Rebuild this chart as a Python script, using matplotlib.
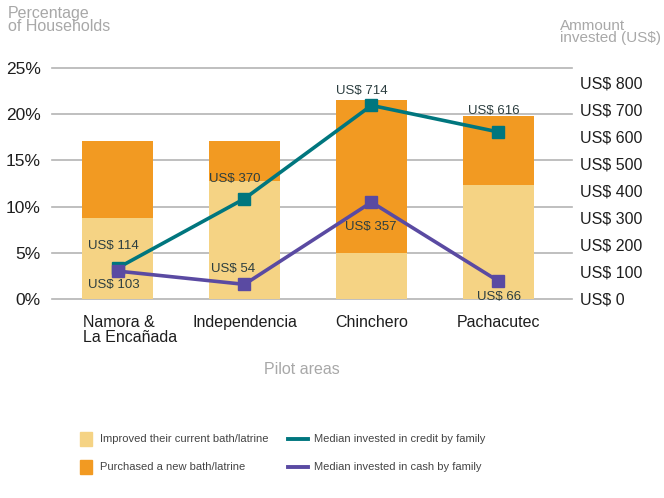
import matplotlib.pyplot as plt
import numpy as np

plt.rcParams['font.family'] = ['Liberation Sans', 'DejaVu Sans']

# data
areas = ["Namora &\nLa Encañada", "Independencia", "Chinchero", "Pachacutec"]
improved = [8.8, 12.8, 5.0, 12.3]
purchased = [8.3, 4.3, 16.5, 7.5]
credit = [114, 370, 714, 616]
cash = [103, 54, 357, 66]
pct_ticks = [0, 5, 10, 15, 20, 25]
usd_ticks = [0, 100, 200, 300, 400, 500, 600, 700, 800]

LIGHT = "#F5D384"
ORANGE = "#F29A22"
TEAL = "#00767E"
PURPLE = "#5A4AA2"
GRID = "#b4b4b4"
GREY_TXT = "#a8a8a8"
DARK = "#1e1e1e"
LABEL = "#2c3e40"

fig = plt.figure(figsize=(6.64, 4.98), dpi=100)
ax = fig.add_axes([0.0783, 0.3996, 0.7831, 0.4639])

x = np.arange(len(areas))
ax.bar(x, improved, width=0.56, color=LIGHT, zorder=2)
ax.bar(x, purchased, bottom=improved, width=0.56, color=ORANGE, zorder=2)

ax.set_xlim(-0.516, 3.579)
ax.set_ylim(0, 25)
ax.set_yticks(pct_ticks)
ax.set_yticklabels(["{}%".format(t) for t in pct_ticks], fontsize=12.5, color=DARK)
ax.yaxis.grid(True, color=GRID, linewidth=1.2, zorder=0)
for g in ax.yaxis.get_gridlines():
    g.set_clip_on(False)
ax.tick_params(axis="y", length=0, pad=8)
ax.set_xticks([])
for s in ax.spines.values():
    s.set_visible(False)

# category labels
for i, name in enumerate(areas):
    if i == 0:
        ax.text(i - 0.27, -1.75, name, ha="left", va="top", fontsize=11.5, color=DARK,
                linespacing=0.95)
    else:
        ax.text(i, -1.75, name, ha="center", va="top", fontsize=11.5, color=DARK)
ax.text(1.45, -7.6, "Pilot areas", ha="center", va="center", fontsize=11.5, color=GREY_TXT)

ax2 = ax.twinx()
ax2.set_ylim(0, 852)
ax2.set_yticks(usd_ticks)
ax2.set_yticklabels(["US$ {}".format(t) for t in usd_ticks], fontsize=11.5, color=DARK)
ax2.tick_params(axis="y", length=0, pad=6)
for s in ax2.spines.values():
    s.set_visible(False)

ax2.plot(x, credit, color=TEAL, linewidth=2.6, marker="s", markersize=9, zorder=3)
ax2.plot(x, cash, color=PURPLE, linewidth=2.6, marker="s", markersize=9, zorder=4)

# value labels, offsets in pixels from the marker
credit_off = [(-4, 22), (-10, 20), (-10, 14), (-5, 21)]
cash_off = [(-4, -14), (-11, 15), (-1, -25), (1, -16)]
for i in range(len(areas)):
    ax2.annotate("US$ {}".format(credit[i]), (x[i], credit[i]), xytext=credit_off[i],
                 textcoords="offset pixels", ha="center", va="center",
                 fontsize=9.5, color=LABEL)
    ax2.annotate("US$ {}".format(cash[i]), (x[i], cash[i]), xytext=cash_off[i],
                 textcoords="offset pixels", ha="center", va="center",
                 fontsize=9.5, color=LABEL)

# axis titles
fig.text(8 / 664, 1 - 6 / 498, "Percentage\nof Households", ha="left", va="top",
         fontsize=11.5, color=GREY_TXT, linespacing=0.85)
fig.text(560 / 664, 1 - 19 / 498, "Ammount\ninvested (US$)", ha="left", va="top",
         fontsize=11, color=GREY_TXT, linespacing=0.85)

# legend
fig.patches.append(plt.Rectangle((80 / 664, 1 - 446 / 498), 12 / 664, 14 / 498,
                                 transform=fig.transFigure, color=LIGHT))
fig.patches.append(plt.Rectangle((80 / 664, 1 - 474 / 498), 12 / 664, 14 / 498,
                                 transform=fig.transFigure, color=ORANGE))
fig.text(100 / 664, 1 - 439 / 498, "Improved their current bath/latrine", va="center",
         fontsize=8, color="#444444")
fig.text(100 / 664, 1 - 467 / 498, "Purchased a new bath/latrine", va="center",
         fontsize=8, color="#444444")
fig.lines.append(plt.Line2D([288 / 664, 308 / 664], [1 - 439 / 498] * 2,
                            transform=fig.transFigure, color=TEAL, linewidth=2.8))
fig.lines.append(plt.Line2D([288 / 664, 308 / 664], [1 - 467 / 498] * 2,
                            transform=fig.transFigure, color=PURPLE, linewidth=2.8))
fig.text(314 / 664, 1 - 439 / 498, "Median invested in credit by family", va="center",
         fontsize=8, color="#444444")
fig.text(314 / 664, 1 - 467 / 498, "Median invested in cash by family", va="center",
         fontsize=8, color="#444444")

fig.savefig("out.png", dpi=100)
